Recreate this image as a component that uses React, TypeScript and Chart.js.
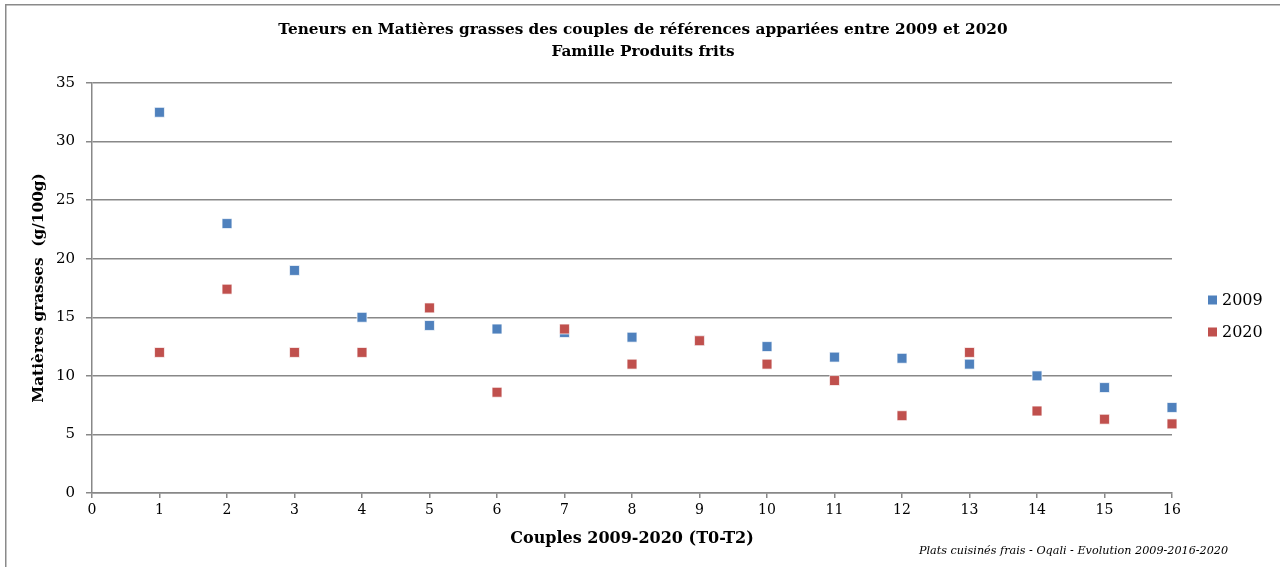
import React, { useEffect, useRef } from "react";
import { Chart, registerables } from "chart.js";

Chart.register(...registerables);

const couples = [1, 2, 3, 4, 5, 6, 7, 8, 9, 10, 11, 12, 13, 14, 15, 16];
const values2009 = [32.5, 23.0, 19.0, 15.0, 14.3, 14.0, 13.7, 13.3, 13.0, 12.5, 11.6, 11.5, 11.0, 10.0, 9.0, 7.3];
const values2020 = [12.0, 17.4, 12.0, 12.0, 15.8, 8.6, 14.0, 11.0, 13.0, 11.0, 9.6, 6.6, 12.0, 7.0, 6.3, 5.9];
const seriesLabels = ["2009", "2020"];
const seriesColors = ["#4F81BD", "#C0504D"];
const titleLines = [
  "Teneurs en Matières grasses des couples de références appariées entre 2009 et 2020",
  "Famille Produits frits",
];
const xTitle = "Couples 2009-2020 (T0-T2)";
const yTitle = "Matières grasses  (g/100g)";
const footer = "Plats cuisinés frais - Oqali - Evolution 2009-2016-2020";

const SERIF = "'DejaVu Serif', 'Liberation Serif', serif";

const decorPlugin = {
  id: "decor",
  beforeDraw(chart: any) {
    const ctx = chart.ctx;
    ctx.save();
    ctx.fillStyle = "#ffffff";
    ctx.fillRect(0, 0, chart.width, chart.height);
    ctx.strokeStyle = "#8a8a8a";
    ctx.lineWidth = 1.5;
    ctx.strokeRect(5.75, 4.75, chart.width + 20, chart.height + 20);
    ctx.restore();
  },
  afterDraw(chart: any) {
    const ctx = chart.ctx;
    const area = chart.chartArea;
    ctx.save();
    ctx.fillStyle = "#000";
    ctx.textAlign = "center";
    ctx.textBaseline = "middle";
    ctx.font = `bold 15.3px ${SERIF}`;
    const cx = 643;
    ctx.fillText(titleLines[0], cx, 30);
    ctx.fillText(titleLines[1], cx, 52);
    const ds = chart.data.datasets;
    const ys = [300, 332];
    ctx.font = `16px ${SERIF}`;
    ctx.textAlign = "left";
    ds.forEach((d: any, i: number) => {
      ctx.fillStyle = d.backgroundColor;
      ctx.fillRect(area.right + 36, ys[i] - 4.5, 9, 9);
      ctx.fillStyle = "#000";
      ctx.fillText(d.label, area.right + 50, ys[i] + 1);
    });
    ctx.font = `italic 11.2px ${SERIF}`;
    ctx.textAlign = "right";
    ctx.fillStyle = "#000";
    ctx.fillText(footer, 1228, 551);
    ctx.restore();
  },
};

export default function App() {
  const ref = useRef<HTMLCanvasElement | null>(null);
  useEffect(() => {
    if (!ref.current) return;
    const mk = (vals: number[]) => couples.map((c, i) => ({ x: c, y: vals[i] }));
    const chart = new Chart(ref.current, {
      type: "scatter",
      data: {
        datasets: [
          {
            label: seriesLabels[0],
            data: mk(values2009),
            backgroundColor: seriesColors[0],
            borderColor: "rgba(255,255,255,0.7)",
            borderWidth: 1,
            pointStyle: "rect",
            pointRadius: 7,
            order: 1,
            clip: false,
          },
          {
            label: seriesLabels[1],
            data: mk(values2020),
            backgroundColor: seriesColors[1],
            borderColor: "rgba(255,255,255,0.7)",
            borderWidth: 1,
            pointStyle: "rect",
            pointRadius: 7,
            order: 0,
            clip: false,
          },
        ],
      },
      options: {
        animation: false,
        responsive: false,
        maintainAspectRatio: false,
        layout: { padding: { top: 83, right: 108, bottom: 0, left: 0 } },
        plugins: {
          legend: { display: false },
          title: { display: false },
          tooltip: { enabled: false },
        },
        scales: {
          x: {
            type: "linear",
            min: 0,
            max: 16,
            ticks: {
              stepSize: 1,
              padding: 4,
              color: "#000",
              font: { family: SERIF, size: 14 },
            },
            grid: {
              drawOnChartArea: false,
              drawTicks: true,
              tickLength: 5,
              color: "#888",
              lineWidth: 1.5,
            },
            border: { display: true, color: "#888", width: 1.5 },
            title: {
              display: true,
              text: xTitle,
              color: "#000",
              font: { family: SERIF, size: 16, weight: "bold" },
              padding: { top: 0, bottom: 19 },
            },
            afterFit(scale: any) {
              scale.height = 74;
            },
          },
          y: {
            type: "linear",
            min: 0,
            max: 35,
            ticks: {
              stepSize: 5,
              padding: 11,
              color: "#000",
              font: { family: SERIF, size: 15 },
            },
            grid: {
              drawTicks: true,
              tickLength: 6,
              color: "#888",
              lineWidth: 1.5,
            },
            border: { display: true, color: "#888", width: 1.5 },
            title: {
              display: true,
              text: yTitle,
              color: "#000",
              font: { family: SERIF, size: 15.3, weight: "bold" },
              padding: { top: 30, bottom: 0 },
            },
            afterFit(scale: any) {
              scale.width = 92;
            },
          },
        },
      },
      plugins: [decorPlugin],
    });
    return () => chart.destroy();
  }, []);
  return (
    <div style={{ position: "fixed", left: 0, top: 0, width: 1280, height: 567 }}>
      <canvas ref={ref} width={1280} height={567} style={{ width: 1280, height: 567, display: "block" }} />
    </div>
  );
}
